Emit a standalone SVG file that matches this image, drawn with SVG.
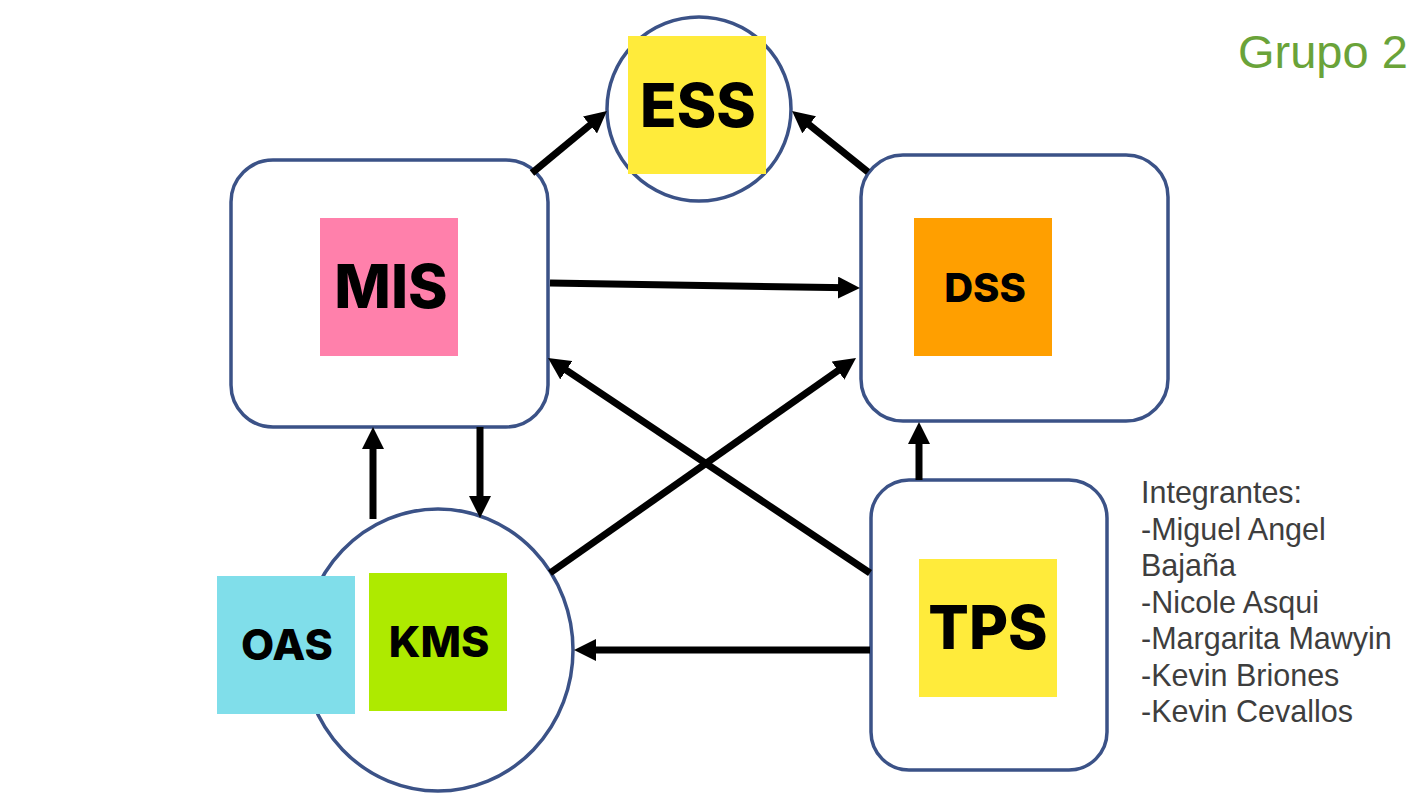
<svg xmlns="http://www.w3.org/2000/svg" width="1422" height="800" viewBox="0 0 1422 800">
  <style>
    .frame { fill: #ffffff; stroke: #3b5287; stroke-width: 3.5; }
    .lbl { font-family: Inter, "Liberation Sans", sans-serif; font-weight: 800; fill: #000000; text-anchor: middle; }
    .conn { stroke: #000000; stroke-width: 7; fill: none; marker-end: url(#arrow); }
    .info { font-family: "Liberation Sans", Arial, sans-serif; font-size: 30.5px; fill: #3e3e3e; }
  </style>
  <defs>
    <marker id="arrow" markerUnits="userSpaceOnUse" markerWidth="22" markerHeight="22" refX="10" refY="11" orient="auto">
      <path d="M0,0 L22,11 L0,22 Z" fill="#000000"/>
    </marker>
  </defs>
  <rect width="1422" height="800" fill="#ffffff"/>

  <g id="ESS">
    <circle class="frame" cx="699" cy="109" r="92"/>
    <rect x="628" y="36" width="138" height="138" fill="#ffeb3b"/>
    <text class="lbl" x="698" y="127" font-size="60">ESS</text>
  </g>

  <g id="MIS">
    <rect class="frame" x="231" y="160" width="317" height="267" rx="42"/>
    <rect x="320" y="218" width="138" height="138" fill="#ff80ab"/>
    <text class="lbl" x="391" y="308" font-size="60">MIS</text>
  </g>

  <g id="DSS">
    <rect class="frame" x="861" y="155" width="307" height="266" rx="42"/>
    <rect x="914" y="218" width="138" height="138" fill="#ff9f00"/>
    <text class="lbl" x="985" y="302" font-size="40">DSS</text>
  </g>

  <g id="TPS">
    <rect class="frame" x="871" y="480" width="236" height="290" rx="38"/>
    <rect x="919" y="559" width="138" height="138" fill="#ffeb3b"/>
    <text class="lbl" x="988" y="649" font-size="60">TPS</text>
  </g>

  <g id="KMS">
    <ellipse class="frame" cx="438" cy="650" rx="135" ry="141"/>
    <rect x="369" y="573" width="138" height="138" fill="#aeea00"/>
    <text class="lbl" x="439" y="657" font-size="43">KMS</text>
  </g>

  <g id="OAS">
    <rect x="217" y="576" width="138" height="138" fill="#80deea"/>
    <text class="lbl" x="287" y="660" font-size="43">OAS</text>
  </g>

  <g id="connectors">
    <path class="conn" d="M532,173 L597.7,118.6"/>
    <path class="conn" d="M868,172 L801.4,118.5"/>
    <path class="conn" d="M550,283 L848,287.8"/>
    <path class="conn" d="M870,573 L558,364.7"/>
    <path class="conn" d="M550,573 L846.2,364.9"/>
    <path class="conn" d="M480,427 L480,506"/>
    <path class="conn" d="M373,519 L373,439"/>
    <path class="conn" d="M870,650 L586,650"/>
    <path class="conn" d="M919,480 L919,434"/>
  </g>

  <g id="title">
    <text x="1238" y="68" font-family="Liberation Sans, Arial, sans-serif" font-size="47" fill="#6aa339">Grupo 2</text>
  </g>

  <g id="members">
    <text class="info" x="1141" y="503">Integrantes:</text>
    <text class="info" x="1141" y="539.5">-Miguel Angel</text>
    <text class="info" x="1141" y="576">Bajaña</text>
    <text class="info" x="1141" y="612.5">-Nicole Asqui</text>
    <text class="info" x="1141" y="649">-Margarita Mawyin</text>
    <text class="info" x="1141" y="685.5">-Kevin Briones</text>
    <text class="info" x="1141" y="722">-Kevin Cevallos</text>
  </g>
</svg>
